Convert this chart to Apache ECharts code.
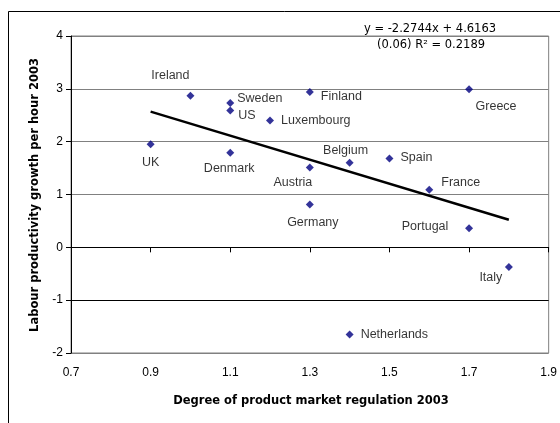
<!DOCTYPE html>
<html>
<head>
<meta charset="utf-8">
<title>Product market regulation vs labour productivity</title>
<script src="https://cdn.jsdelivr.net/npm/echarts@6/dist/echarts.min.js"></script>
<style>
  html, body { margin: 0; padding: 0; background: #fff; }
  #chart { width: 560px; height: 423px; }
</style>
</head>
<body>
<div id="chart"></div>
<script>
// country data: regulation index (x) vs productivity growth (y)
const countries = ['Ireland', 'Sweden', 'US', 'Finland', 'Luxembourg', 'UK', 'Denmark', 'Austria',
  'Belgium', 'Spain', 'France', 'Greece', 'Germany', 'Portugal', 'Italy', 'Netherlands'];
const regulation = [1.0, 1.1, 1.1, 1.3, 1.2, 0.9, 1.1, 1.3, 1.4, 1.5, 1.6, 1.7, 1.3, 1.7, 1.8, 1.4];
const productivity = [2.87, 2.73, 2.59, 2.94, 2.40, 1.95, 1.79, 1.51, 1.60, 1.68, 1.09, 2.99, 0.81, 0.36, -0.37, -1.65];

// linear trend (from the reference)
const trendSlope = -2.2744;
const trendIntercept = 4.6163;
const trendText = ['y = -2.2744x + 4.6163', '(0.06) R\u00b2 = 0.2189'];

const xTicks = { min: 0.7, max: 1.9, step: 0.2 };
const yTicks = { min: -2, max: 4, step: 1 };

// where each label sits relative to its marker: [align, dx, dy]
const labelPlace = {
  Ireland: ['center', -20, -20],
  Sweden: ['left', 7, -5],
  US: ['left', 8, 5],
  Finland: ['left', 11, 5],
  Luxembourg: ['left', 11, 0],
  UK: ['center', 0, 18],
  Denmark: ['center', -1, 16],
  Austria: ['center', -17, 15],
  Belgium: ['center', -4, -12],
  Spain: ['left', 11, -1],
  France: ['left', 12, -7],
  Greece: ['center', 27, 17],
  Germany: ['center', 3, 18],
  Portugal: ['center', -44, -2],
  Italy: ['center', -18, 11],
  Netherlands: ['left', 11, 0]
};

const font = 'Liberation Sans, Arial, sans-serif';
const wideFont = 'DejaVu Sans, sans-serif';

const points = countries.map((name, i) => {
  const p = labelPlace[name];
  return {
    name: name,
    value: [regulation[i], productivity[i]],
    label: { align: p[0], offset: [p[1], p[2]] }
  };
});

const xFrom = Math.min(...regulation);
const xTo = Math.max(...regulation);
const trendData = [
  [xFrom, trendSlope * xFrom + trendIntercept],
  [xTo, trendSlope * xTo + trendIntercept]
];

const chart = echarts.init(document.getElementById('chart'));

chart.setOption({
  animation: false,
  backgroundColor: '#fff',
  grid: {
    left: 71, right: 10, top: 36, bottom: 70,
    show: true,
    borderColor: '#808080',
    borderWidth: 1
  },
  xAxis: {
    type: 'value',
    min: xTicks.min, max: xTicks.max, interval: xTicks.step,
    axisLine: { lineStyle: { color: '#000', width: 1 } },
    axisTick: { show: true, length: 5, lineStyle: { color: '#000' } },
    axisLabel: {
      color: '#000', fontFamily: font, fontSize: 12, margin: 14,
      formatter: v => v.toFixed(1)
    },
    splitLine: { show: false }
  },
  yAxis: {
    type: 'value',
    min: yTicks.min, max: yTicks.max, interval: yTicks.step,
    axisLine: { show: true, lineStyle: { color: '#000', width: 1 } },
    axisTick: { show: true, length: 5, lineStyle: { color: '#000' } },
    axisLabel: { color: '#000', fontFamily: font, fontSize: 12, margin: 8 },
    splitLine: {
      show: true,
      lineStyle: { color: ['#808080', '#000', '#808080', '#808080', '#808080', '#808080', '#808080'], width: 1 }
    }
  },
  graphic: [
    {
      type: 'rect',
      shape: { x: 8.5, y: 11.5, width: 600, height: 500 },
      style: { fill: 'none', stroke: '#000', lineWidth: 1 },
      silent: true
    },
    {
      type: 'text',
      x: 35, y: 195, rotation: Math.PI / 2,
      style: {
        text: 'Labour productivity growth per hour 2003',
        font: 'bold 11.5px ' + wideFont, fill: '#000',
        align: 'center', verticalAlign: 'middle'
      }
    },
    {
      type: 'text',
      x: 311, y: 401,
      style: {
        text: 'Degree of product market regulation 2003',
        font: 'bold 11.5px ' + wideFont, fill: '#000',
        align: 'center', verticalAlign: 'middle'
      }
    },
    {
      type: 'text',
      x: 430, y: 29,
      style: { text: trendText[0], font: '11.5px ' + wideFont, fill: '#000', align: 'center', verticalAlign: 'middle' }
    },
    {
      type: 'text',
      x: 431, y: 45,
      style: { text: trendText[1], font: '11.5px ' + wideFont, fill: '#000', align: 'center', verticalAlign: 'middle' }
    }
  ],
  series: [
    {
      name: 'Countries',
      type: 'scatter',
      symbol: 'diamond',
      symbolSize: 8,
      itemStyle: { color: '#000080' },
      data: points,
      label: {
        show: true,
        position: 'inside',
        formatter: '{b}',
        color: '#000',
        fontFamily: font,
        fontSize: 12.5,
        verticalAlign: 'middle'
      },
      z: 3
    },
    {
      name: 'Trend',
      type: 'line',
      data: trendData,
      symbol: 'none',
      lineStyle: { color: '#000', width: 2.5 },
      z: 2
    }
  ]
});
</script>
</body>
</html>
